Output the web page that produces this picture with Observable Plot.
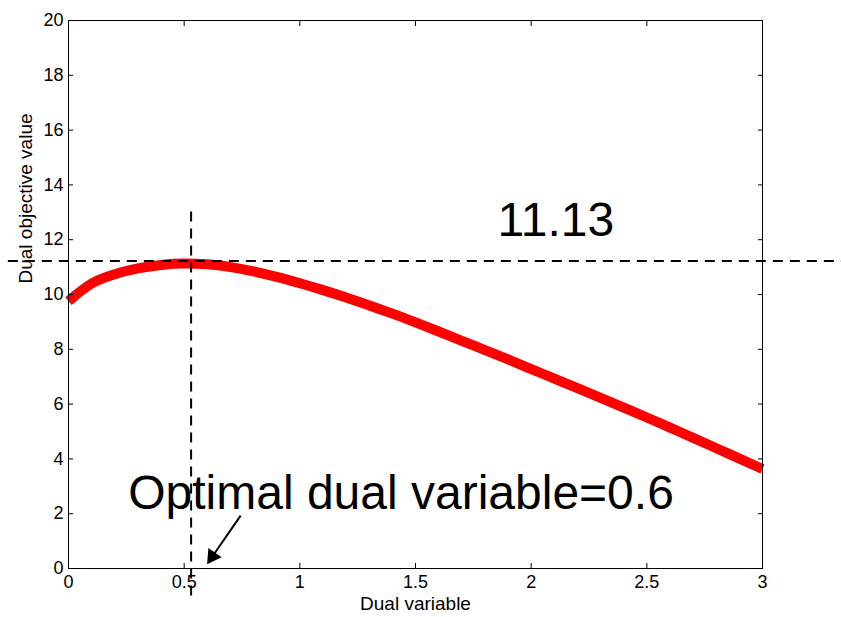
<!DOCTYPE html>
<html><head><meta charset="utf-8">
<script src="https://cdn.jsdelivr.net/npm/d3@7"></script>
<script src="https://cdn.jsdelivr.net/npm/@observablehq/plot@0.6"></script>
<style>body{margin:0;background:#fff} svg{display:block}</style>
</head><body><div id="chart"></div>
<script>
// Curve: dual objective value vs dual variable
const dualVariable = [0,0.1,0.2,0.3,0.4,0.5,0.6,0.7,0.8,0.9,1.0,1.1,1.2,1.3,1.4,1.5,1.6,1.7,1.8,1.9,2.0,2.1,2.2,2.3,2.4,2.5,2.6,2.7,2.8,2.9,3.0];
const dualObjective = [9.76,10.40,10.74,10.95,11.08,11.13,11.10,11.00,10.84,10.64,10.41,10.16,9.89,9.60,9.30,8.98,8.65,8.31,7.97,7.63,7.28,6.93,6.58,6.23,5.87,5.51,5.14,4.77,4.39,4.01,3.63];

const xTicks = [0,0.5,1,1.5,2,2.5,3];
const yTicks = [0,2,4,6,8,10,12,14,16,18,20];

// Reference lines
const optimalDual = 0.53;
const optimalDualSpan = [-1, 13.05];
const optimalValue = 11.22;
const optimalValueSpan = [-0.26, 3.4];

// Annotations
const valueLabel = {text: "11.13", x: 1.855, y: 12.7};
const dualLabel = {text: "Optimal dual variable=0.6", x: 0.258, y: 2.75};
const arrowFrom = {x: 0.744, y: 1.93};
const arrowHead = {x: 0.622, y: 0.44};

const xLabel = "Dual variable";
const yLabel = "Dual objective value";

const curve = dualVariable.map((x, i) => ({x, y: dualObjective[i]}));
const font = "'Liberation Sans', Arial, Helvetica, sans-serif";

const chart = Plot.plot({
  width: 841,
  height: 617,
  marginLeft: 68,
  marginRight: 79,
  marginTop: 20,
  marginBottom: 49,
  style: {fontFamily: font, fontSize: "18px", background: "#fff", color: "#000"},
  x: {domain: [0, 3]},
  y: {domain: [0, 20]},
  marks: [
    Plot.line(curve, {x: "x", y: "y", stroke: "#ff0000", strokeWidth: 10, strokeLinecap: "butt", curve: "monotone-x"}),
    Plot.ruleY([optimalValue], {x1: optimalValueSpan[0], x2: optimalValueSpan[1], stroke: "#000", strokeWidth: 2, strokeDasharray: "10,7"}),
    Plot.ruleX([optimalDual], {y1: optimalDualSpan[0], y2: optimalDualSpan[1], stroke: "#000", strokeWidth: 2, strokeDasharray: "10,7"}),
    Plot.frame({stroke: "#000", strokeWidth: 1}),
    Plot.axisX(xTicks, {anchor: "bottom", tickSize: -5, tickPadding: 12, tickFormat: d => String(d), label: null, fontSize: 18}),
    Plot.axisX(xTicks, {anchor: "top", tickSize: -5, tickFormat: () => "", label: null}),
    Plot.axisY(yTicks, {anchor: "left", tickSize: -5, tickPadding: 10, tickFormat: d => String(d), label: null, fontSize: 18}),
    Plot.axisY(yTicks, {anchor: "right", tickSize: -5, tickFormat: () => "", label: null}),
    Plot.text([xLabel], {frameAnchor: "bottom", dy: 41, fontSize: 19, fill: "#000"}),
    Plot.text([yLabel], {frameAnchor: "left", dx: -43, dy: -11, rotate: -90, fontSize: 19, fill: "#000"}),
    Plot.text([valueLabel], {x: "x", y: "y", text: "text", textAnchor: "start", fontSize: 48, fill: "#000"}),
    Plot.text([dualLabel], {x: "x", y: "y", text: "text", textAnchor: "start", fontSize: 48, fill: "#000"}),
    Plot.link([arrowFrom], {x1: "x", y1: "y", x2: () => arrowHead.x, y2: () => arrowHead.y, stroke: "#000", strokeWidth: 2}),
    Plot.dot([arrowHead], {x: "x", y: "y", symbol: "triangle", r: 6, fill: "#000", stroke: "none", rotate: 214.5})
  ]
});
document.getElementById("chart").appendChild(chart);
</script>
</body></html>
